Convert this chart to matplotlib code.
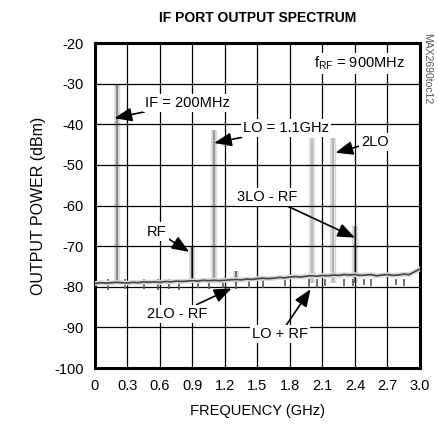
import matplotlib
matplotlib.use('Agg')
import matplotlib.pyplot as plt
from matplotlib import font_manager

# 스펙트럼 데이터 (GHz, dBm)
floor_freq = [0.00, 0.05, 0.10, 0.15, 0.20, 0.25, 0.30, 0.35, 0.40, 0.45,
              0.50, 0.55, 0.60, 0.65, 0.70, 0.75, 0.80, 0.85, 0.90, 0.95,
              1.00, 1.05, 1.10, 1.15, 1.20, 1.25, 1.30, 1.35, 1.40, 1.45,
              1.50, 1.55, 1.60, 1.65, 1.70, 1.75, 1.80, 1.85, 1.90, 1.95,
              2.00, 2.05, 2.10, 2.15, 2.20, 2.25, 2.30, 2.35, 2.40, 2.45,
              2.50, 2.55, 2.60, 2.65, 2.70, 2.75, 2.80, 2.85, 2.90, 2.95, 3.00]
floor_dbm = [-79.2, -79.0, -79.1, -79.0, -78.9, -79.0, -79.1, -78.9, -79.0, -78.8,
             -78.9, -78.8, -78.9, -78.7, -78.8, -78.6, -78.7, -78.6, -78.5, -78.6,
             -78.4, -78.5, -78.4, -78.5, -78.4, -78.3, -78.2, -78.3, -78.1, -78.2,
             -78.0, -77.9, -78.0, -77.9, -77.7, -77.8, -77.6, -77.5, -77.6, -77.4,
             -77.3, -77.4, -77.2, -77.3, -77.1, -77.2, -77.0, -77.1, -77.0, -77.2,
             -77.1, -77.0, -77.3, -77.1, -77.0, -77.2, -77.1, -76.9, -77.0, -76.3, -75.6]

dip_freq = [0.12, 0.28, 0.45, 0.58, 0.68, 0.78, 0.95, 1.05, 1.18, 1.30, 1.42,
            1.55, 1.75, 1.98, 2.05, 2.12, 2.30, 2.38, 2.48, 2.55, 2.78, 2.85]
dip_dbm = [-80.8, -80.5, -80.6, -80.8, -80.5, -80.7, -80.4, -80.6, -80.3, -80.5, -80.2,
           -80.2, -79.9, -80.0, -80.2, -79.8, -79.7, -79.9, -79.6, -79.8, -79.6, -79.8]

peak_freq = [0.20, 0.90, 1.10, 1.30, 2.00, 2.20, 2.40]
peak_dbm = [-30.0, -70.0, -41.5, -76.0, -43.5, -43.5, -65.0]

x_ticks = [0, 0.3, 0.6, 0.9, 1.2, 1.5, 1.8, 2.1, 2.4, 2.7, 3.0]
x_labels = ['0', '0.3', '0.6', '0.9', '1.2', '1.5', '1.8', '2.1', '2.4', '2.7', '3.0']
y_ticks = [-20, -30, -40, -50, -60, -70, -80, -90, -100]

names = [f.name for f in font_manager.fontManager.ttflist]
narrow = 'Liberation Sans Narrow' if 'Liberation Sans Narrow' in names else 'Liberation Sans'
plt.rcParams['font.family'] = [narrow, 'DejaVu Sans']
plt.rcParams['axes.unicode_minus'] = False

fig = plt.figure(figsize=(4.39, 4.32), dpi=100)
ax = fig.add_axes([0.2164, 0.1481, 0.7403, 0.7523])

# 피크 (흐린 바깥 + 진한 중심), 격자 아래에 그림
peak_colors = ['#8a8a8a', '#606060', '#999999', '#707070', '#bdbdbd', '#b5b5b5', '#8a8a8a']
for f, p, c in zip(peak_freq, peak_dbm, peak_colors):
    ax.vlines(f, -79, p, color='#dddddd', lw=4.5, zorder=0.2)
    ax.vlines(f, -79, p, color=c, lw=1.6, zorder=0.3)

ax.vlines(dip_freq, [-78] * len(dip_freq), dip_dbm, color='#5a5a5a', lw=1.2, zorder=3)
ax.plot(floor_freq, floor_dbm, color='#d8d8d8', lw=3.5, zorder=3)
ax.plot(floor_freq, floor_dbm, color='#454545', lw=1.2, zorder=3)

ax.set_xlim(0, 3.0)
ax.set_ylim(-100, -20)
ax.set_xticks(x_ticks)
ax.set_xticklabels(x_labels)
ax.set_yticks(y_ticks)
ax.tick_params(length=0, labelsize=10.5, pad=8)
ax.grid(True, color='black', lw=0.9)
ax.set_axisbelow(True)
for s in ax.spines.values():
    s.set_linewidth(2.2)

ax.set_xlabel('FREQUENCY (GHz)', fontsize=10.5, labelpad=8)
ax.set_ylabel('OUTPUT POWER (dBm)', fontsize=11.5, labelpad=6)
fig.text(0.586, 0.958, 'IF PORT OUTPUT SPECTRUM', ha='center', va='center',
         fontsize=10, fontweight='bold')
fig.text(0.973, 0.84, 'MAX2690toc12', rotation=-90, ha='center', va='center',
         fontsize=7.5, color='#555555')

box = dict(facecolor='white', edgecolor='none', pad=1.5)
arrow = dict(arrowstyle='-|>,head_length=0.75,head_width=0.3', color='black', lw=1.2,
             mutation_scale=14, shrinkA=0, shrinkB=0)
ax.annotate('IF = 200MHz', xy=(0.18, -38.5), xytext=(0.46, -34.7), fontsize=10.5,
            va='center', ha='left', bbox=box, arrowprops=arrow, zorder=5)
ax.annotate('LO = 1.1GHz', xy=(1.10, -44.6), xytext=(1.37, -41.0), fontsize=10.5,
            va='center', ha='left', bbox=box, arrowprops=arrow, zorder=5)
ax.annotate('2LO', xy=(2.22, -47.0), xytext=(2.46, -44.3), fontsize=10.5,
            va='center', ha='left', bbox=box, arrowprops=arrow, zorder=5)
ax.annotate('3LO - RF', xy=(2.40, -67.9), xytext=(1.31, -57.8), fontsize=10.5,
            va='center', ha='left', bbox=box, arrowprops=arrow, zorder=5)
ax.annotate('RF', xy=(0.87, -71.4), xytext=(0.48, -66.4), fontsize=10.5,
            va='center', ha='left', bbox=box, arrowprops=arrow, zorder=5)
ax.annotate('2LO - RF', xy=(1.26, -80.4), xytext=(0.48, -86.6), fontsize=10.5,
            va='center', ha='left', bbox=box, arrowprops=arrow, zorder=5)
ax.annotate('LO + RF', xy=(1.99, -80.6), xytext=(1.45, -91.7), fontsize=10.5,
            va='center', ha='left', bbox=box, arrowprops=arrow, zorder=5)
ax.text(2.02, -25.0, '$\\mathregular{f_{RF}}$ = 900MHz', fontsize=10.5, va='center',
        ha='left', bbox=box, zorder=5)

fig.savefig('out.png', dpi=100)
